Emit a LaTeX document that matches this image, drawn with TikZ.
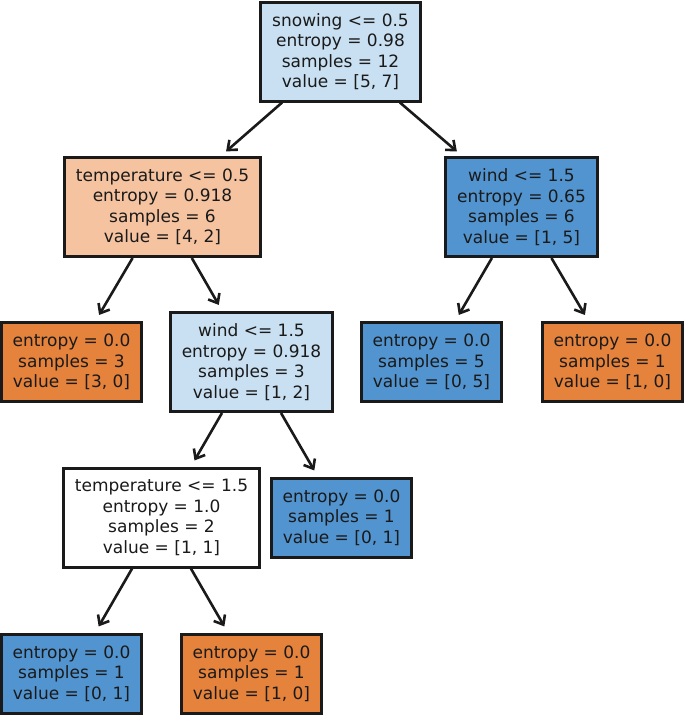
\documentclass[tikz,border=0pt]{standalone}
\usepackage{fontspec}
\setmainfont{DejaVu Sans}
\usetikzlibrary{arrows.meta}
\definecolor{pureorange}{HTML}{E5823B}
\definecolor{paleorange}{HTML}{F6C3A0}
\definecolor{pureblue}{HTML}{5294CF}
\definecolor{paleblue}{HTML}{C9E0F2}
\definecolor{inkgrey}{HTML}{1A1A1A}
\begin{document}
\begin{tikzpicture}[x=1pt,y=-1pt,>={Straight Barb[length=8pt,width=13pt]},
  box/.style={draw=inkgrey,line width=3pt,align=center,text=inkgrey,
    inner xsep=11.3pt,inner ysep=0pt,font=\fontsize{17}{20.5}\selectfont},
  split/.style={box,minimum height=99pt},
  leaf/.style={box,minimum height=79pt,minimum width=140pt},
  edge/.style={->,draw=inkgrey,line width=2.6pt,shorten >=7pt}]
\useasboundingbox (0,0) rectangle (685,715);
\node[split,fill=paleblue] (root) at (340.5,51.5) {snowing <= 0.5\\entropy = 0.98\\samples = 12\\value = [5, 7]};
\node[split,fill=paleorange] (temp) at (162.5,207) {temperature <= 0.5\\entropy = 0.918\\samples = 6\\value = [4, 2]};
\node[split,fill=pureblue] (windr) at (521.5,207) {wind <= 1.5\\entropy = 0.65\\samples = 6\\value = [1, 5]};
\node[leaf,fill=pureorange] (leafa) at (71.5,362) {entropy = 0.0\\samples = 3\\value = [3, 0]};
\node[split,fill=paleblue] (windm) at (251.5,362) {wind <= 1.5\\entropy = 0.918\\samples = 3\\value = [1, 2]};
\node[leaf,fill=pureblue] (leafb) at (431.5,362) {entropy = 0.0\\samples = 5\\value = [0, 5]};
\node[leaf,fill=pureorange] (leafc) at (612.5,362) {entropy = 0.0\\samples = 1\\value = [1, 0]};
\node[split,fill=white] (tempb) at (161.5,517.5) {temperature <= 1.5\\entropy = 1.0\\samples = 2\\value = [1, 1]};
\node[leaf,fill=pureblue] (leafd) at (341.5,517.5) {entropy = 0.0\\samples = 1\\value = [0, 1]};
\node[leaf,fill=pureblue] (leafe) at (71.5,673.5) {entropy = 0.0\\samples = 1\\value = [0, 1]};
\node[leaf,fill=pureorange] (leaff) at (251.5,673.5) {entropy = 0.0\\samples = 1\\value = [1, 0]};
\draw[edge] (root) -- (temp);
\draw[edge] (root) -- (windr);
\draw[edge] (temp) -- (leafa);
\draw[edge] (temp) -- (windm);
\draw[edge] (windr) -- (leafb);
\draw[edge] (windr) -- (leafc);
\draw[edge] (windm) -- (tempb);
\draw[edge] (windm) -- (leafd);
\draw[edge] (tempb) -- (leafe);
\draw[edge] (tempb) -- (leaff);
\end{tikzpicture}
\end{document}
